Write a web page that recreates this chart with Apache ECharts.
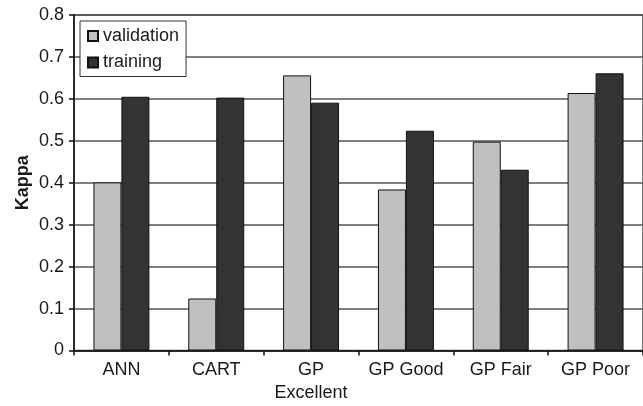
<!DOCTYPE html>
<html>
<head>
<meta charset="utf-8">
<script src="https://cdn.jsdelivr.net/npm/echarts@6/dist/echarts.min.js"></script>
<style>
html,body{margin:0;padding:0;background:#fff;}
#chart{width:643px;height:406px;}
</style>
</head>
<body>
<div id="chart"></div>
<script>
var categories = ['ANN', 'CART', 'GP\nExcellent', 'GP Good', 'GP Fair', 'GP Poor'];
var validation = [0.401, 0.124, 0.656, 0.384, 0.498, 0.614];
var training = [0.605, 0.603, 0.591, 0.524, 0.431, 0.661];
var yTicks = [0, 0.1, 0.2, 0.3, 0.4, 0.5, 0.6, 0.7, 0.8];

var chart = echarts.init(document.getElementById('chart'), null, {renderer: 'canvas'});
var font = 'Liberation Sans, Arial, sans-serif';
chart.setOption({
  animation: false,
  backgroundColor: '#fff',
  textStyle: {fontFamily: font},
  grid: {left: 74, right: -9, top: 15, bottom: 55.5, show: true, borderColor: '#444', borderWidth: 1.5, backgroundColor: 'transparent'},
  legend: {
    orient: 'vertical',
    left: 80, top: 21,
    padding: [6, 7, 5, 7],
    itemGap: 8.5,
    itemWidth: 10, itemHeight: 10,
    backgroundColor: '#fff',
    borderColor: '#333', borderWidth: 1,
    textStyle: {fontSize: 18, color: '#1a1a1a', fontFamily: font},
    data: [
      {name: 'validation', icon: 'rect'},
      {name: 'training', icon: 'rect'}
    ]
  },
  xAxis: {
    type: 'category',
    data: categories,
    boundaryGap: true,
    axisLine: {lineStyle: {color: '#111', width: 1.5}},
    axisTick: {show: true, length: 5, lineStyle: {color: '#111', width: 1.5}},
    axisLabel: {fontSize: 18, color: '#1a1a1a', margin: 8, lineHeight: 23, interval: 0, fontFamily: font},
    splitLine: {show: false}
  },
  yAxis: {
    type: 'value',
    min: yTicks[0], max: yTicks[yTicks.length - 1], interval: 0.1,
    name: 'Kappa',
    nameLocation: 'middle',
    nameGap: 42,
    nameMoveOverlap: false,
    nameTextStyle: {fontSize: 18, fontWeight: 'bold', color: '#1a1a1a', fontFamily: font},
    axisLine: {show: true, lineStyle: {color: '#111', width: 1.5}},
    axisTick: {show: true, length: 5, lineStyle: {color: '#111', width: 1.5}},
    axisLabel: {fontSize: 18, color: '#1a1a1a', margin: 10, fontFamily: font,
      formatter: function (v) { return String(Math.round(v * 10) / 10); }},
    splitLine: {show: true, lineStyle: {color: '#555', width: 1.5}}
  },
  series: [
    {
      name: 'validation', type: 'bar', data: validation,
      barGap: '0%', barCategoryGap: '41%',
      itemStyle: {color: '#c0c0c0', borderColor: '#111', borderWidth: 1}
    },
    {
      name: 'training', type: 'bar', data: training,
      barGap: '0%', barCategoryGap: '41%',
      itemStyle: {color: '#333333', borderColor: '#111', borderWidth: 1}
    }
  ]
});
</script>
</body>
</html>
